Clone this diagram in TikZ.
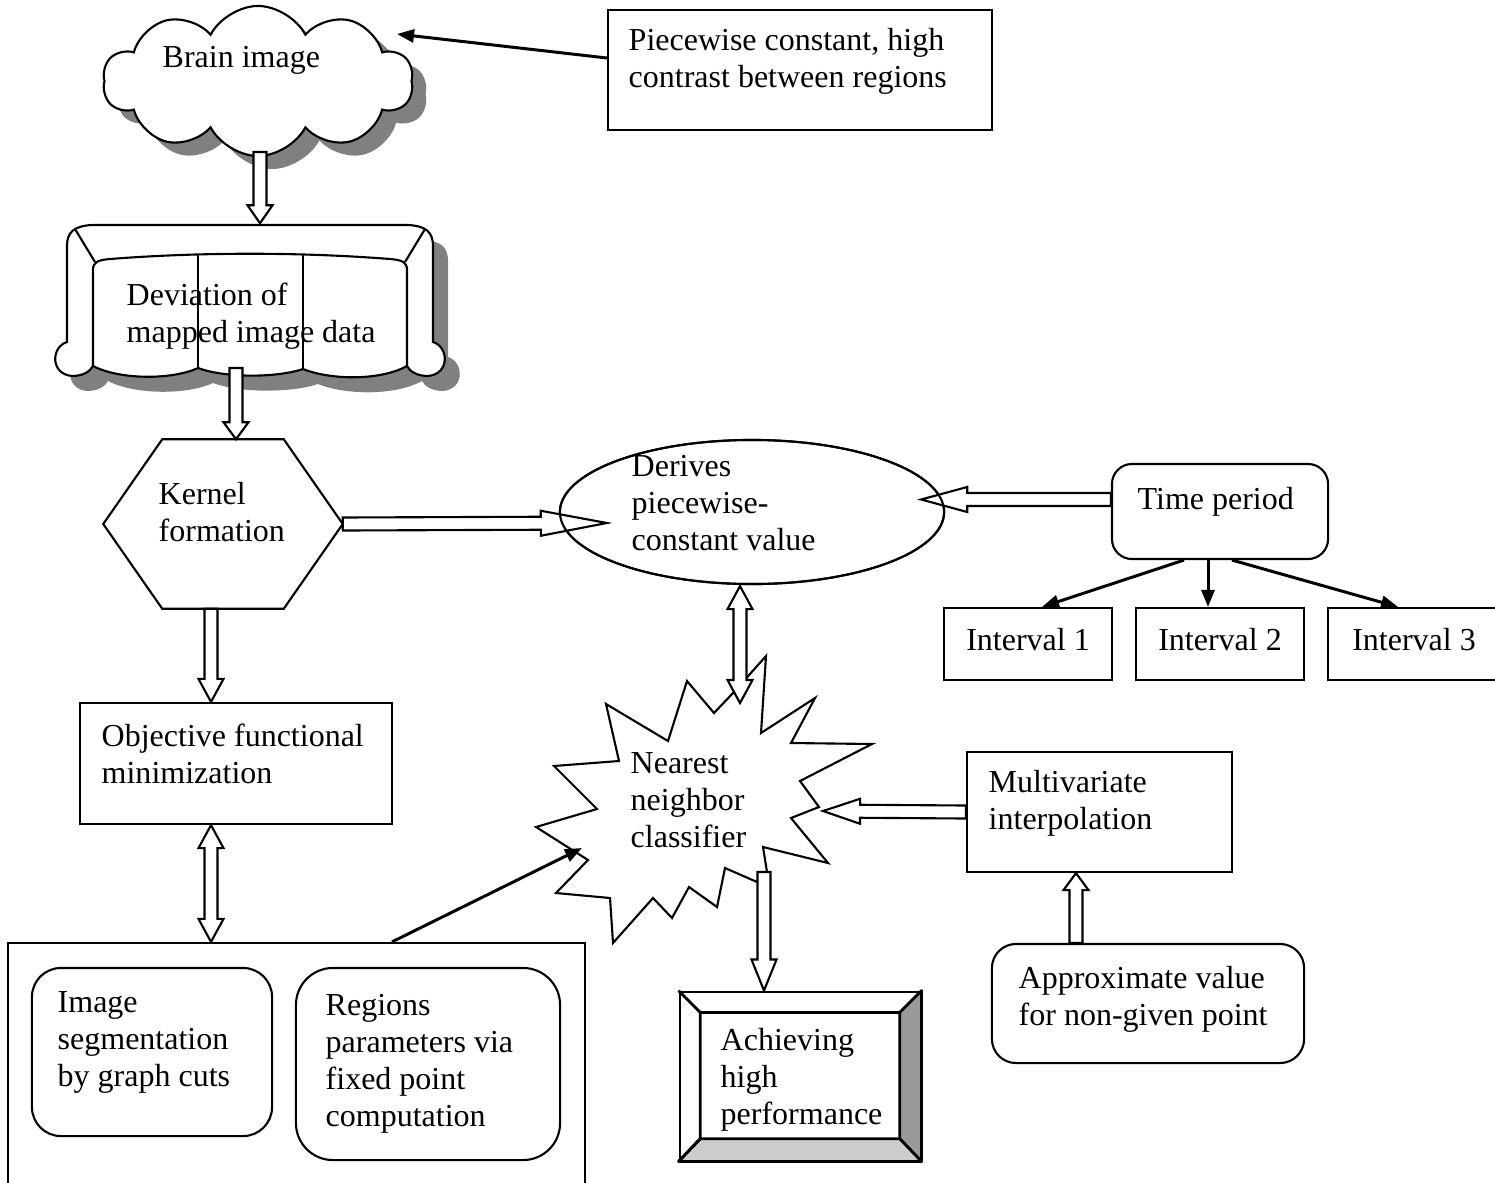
\documentclass[tikz,border=0pt]{standalone}
\usepackage{fontspec}
\setmainfont{Liberation Serif}
\usetikzlibrary{calc,arrows.meta,shapes.geometric,shapes.symbols,shadows}

\definecolor{shadowgray}{HTML}{808080}
\definecolor{beveldark}{HTML}{999999}
\definecolor{bevellight}{HTML}{CCCCCC}

\tikzset{
	shapeline/.style={line width=0.6pt},
	frame/.style={shapeline, draw, rectangle, inner sep=0pt},
	roundframe/.style={frame, rounded corners=#1},
	boxtext/.style={align=left, inner sep=0pt, anchor=north west},
	link/.style={line width=0.85pt, -{Triangle[length=0.17cm,width=0.13cm]}},
	blockline/.style={shapeline, fill=white, line join=miter},
	bevelline/.style={line width=0.8pt, line join=round},
}

% hollow block arrow: [head length]{from}{to}
\newcommand{\blockarrow}[3][0.2cm]{%
	\coordinate (ba-base) at ($(#3)!#1!(#2)$);
	\draw[blockline] ($(#2)!0.065cm!90:(#3)$)
		-- ($(ba-base)!0.065cm!-90:(#2)$) -- ($(ba-base)!0.125cm!-90:(#2)$)
		-- (#3)
		-- ($(ba-base)!0.125cm!90:(#2)$) -- ($(ba-base)!0.065cm!90:(#2)$)
		-- ($(#2)!0.065cm!-90:(#3)$) -- cycle;}

% hollow block arrow with two heads
\newcommand{\twowayarrow}[3][0.23cm]{%
	\coordinate (ta-a) at ($(#2)!#1!(#3)$);
	\coordinate (ta-b) at ($(#3)!#1!(#2)$);
	\draw[blockline] (#2)
		-- ($(ta-a)!0.125cm!90:(#3)$) -- ($(ta-a)!0.065cm!90:(#3)$)
		-- ($(ta-b)!0.065cm!-90:(#2)$) -- ($(ta-b)!0.125cm!-90:(#2)$)
		-- (#3)
		-- ($(ta-b)!0.125cm!90:(#2)$) -- ($(ta-b)!0.065cm!90:(#2)$)
		-- ($(ta-a)!0.065cm!-90:(#3)$) -- ($(ta-a)!0.125cm!-90:(#3)$)
		-- cycle;}

% outline of the sofa shape
\newcommand{\couchoutline}{(67,342) -- (67,246) .. controls (67,232) and (74,226) .. (92,225)
	-- (408,225) .. controls (426,226) and (433,232) .. (433,246) -- (433,342)
	.. controls (449,347) and (450,374) .. (428,376) .. controls (418,376) and (410,372) .. (407,366)
	.. controls (380,381) and (330,380) .. (303,369) .. controls (276,378) and (225,378) .. (198,368)
	.. controls (172,380) and (120,380) .. (93,366) .. controls (90,372) and (82,376) .. (72,376)
	.. controls (50,374) and (51,347) .. (67,342) -- cycle}

\begin{document}
\begin{tikzpicture}[x=0.01cm, y=-0.01cm, font=\fontsize{9.1}{10.5}\selectfont]

	\useasboundingbox (0,0) rectangle (1495,1182);

	% brain image

	\node[cloud, cloud puffs=10, cloud puff arc=125, cloud ignores aspect, draw, shapeline, fill=white,
		minimum width=3.1cm, minimum height=1.5cm,
		drop shadow={shadow xshift=0.14cm, shadow yshift=-0.13cm, fill=shadowgray, opacity=1}] (brain) at (258,81) {};
	\node[boxtext] (brain-txt) at (162,46) {Brain image};

	\node[frame, minimum width=3.84cm, minimum height=1.2cm] (piece) at (800,70) {};
	\node[boxtext] (piece-txt) at (628,28) {Piecewise constant, high\\contrast between regions};

	% mapped image data (sofa)

	\node[minimum width=3.66cm, minimum height=1.52cm, inner sep=0pt] (dev) at (250,300) {};
	\fill[shadowgray, shift={(15,15)}] \couchoutline;
	\draw[shapeline, fill=white] \couchoutline;
	\draw[shapeline] (75,229) -- (95,262);
	\draw[shapeline] (425,229) -- (405,262);
	\draw[shapeline] (93,366) -- (93,270) .. controls (93,262) and (98,260) .. (110,259)
		.. controls (200,252) and (300,252) .. (390,259) .. controls (402,260) and (407,262) .. (407,270) -- (407,366);
	\draw[shapeline] (198,255) -- (198,368);
	\draw[shapeline] (303,255) -- (303,369);
	\node[boxtext] (dev-txt) at (126,282) {Deviation of\\mapped image data};

	% kernel formation

	\node[minimum width=2.38cm, minimum height=1.68cm, inner sep=0pt] (kernel) at (223,524) {};
	\draw[shapeline] (kernel.west) -- ([xshift=0.59cm]kernel.north west) -- ([xshift=-0.59cm]kernel.north east)
		-- (kernel.east) -- ([xshift=-0.59cm]kernel.south east) -- ([xshift=0.59cm]kernel.south west) -- cycle;
	\node[boxtext] (kernel-txt) at (158,482) {Kernel\\formation};

	% piecewise-constant value and time period

	\node[ellipse, draw, shapeline, minimum width=3.84cm, minimum height=1.44cm, inner sep=0pt] (derives) at (752,512) {};
	\node[boxtext] (derives-txt) at (631,455) {Derives\\piecewise-\\constant value};

	\node[roundframe=0.2cm, minimum width=2.16cm, minimum height=0.95cm] (time) at (1220,511.5) {};
	\node[boxtext] (time-txt) at (1137,487) {Time period};

	\node[frame, minimum width=1.68cm, minimum height=0.72cm, text height=0.22cm, text depth=0.1cm] (int1) at (1028,644) {Interval 1};
	\node[frame, minimum width=1.68cm, minimum height=0.72cm, text height=0.22cm, text depth=0.1cm] (int2) at (1220,644) {Interval 2};
	\node[frame, minimum width=1.72cm, minimum height=0.72cm, text height=0.22cm, text depth=0.1cm] (int3) at (1414,644) {Interval 3};

	% objective functional

	\node[frame, minimum width=3.12cm, minimum height=1.21cm] (objective) at (236,763.5) {};
	\node[boxtext] (objective-txt) at (101,723) {Objective functional\\minimization};

	% nearest neighbor classifier (starburst)

	\foreach \px/\py [count=\i] in {766/656, 761/733, 815/698, 791/743, 872/744, 800/781,
		819/807, 791/818, 828/863, 763/847, 767/872, 757/882, 725/868, 717/907,
		689/887, 672/918, 653/898, 613/943, 610/898, 556/893, 588/860, 536/827,
		597/809, 554/766, 619/761, 606/704, 668/741, 687/681, 714/713, 733/693}
		\coordinate (nb\i) at (\px,\py);
	\draw[shapeline, fill=white] (nb1) \foreach \i in {2,...,30} { -- (nb\i) } -- cycle;
	\node[boxtext] (nearest) at (630,752) {Nearest\\neighbor\\classifier};

	% interpolation

	\node[frame, minimum width=2.65cm, minimum height=1.2cm] (multi) at (1099.5,812) {};
	\node[boxtext] (multi-txt) at (988,770) {Multivariate\\interpolation};

	\node[roundframe=0.24cm, minimum width=3.12cm, minimum height=1.19cm] (approx) at (1148,1003.5) {};
	\node[boxtext] (approx-txt) at (1018,966) {Approximate value\\for non-given point};

	% segmentation group

	\node[frame, minimum width=5.77cm, minimum height=2.8cm] (seg) at (296.5,1083) {};
	\node[roundframe=0.29cm, minimum width=2.4cm, minimum height=1.68cm] (imgseg) at (152,1052) {};
	\node[boxtext] (imgseg-txt) at (57,991) {Image\\segmentation\\by graph cuts};
	\node[roundframe=0.37cm, minimum width=2.64cm, minimum height=1.92cm] (regions) at (428,1064) {};
	\node[boxtext] (regions-txt) at (325,994) {Regions\\parameters via\\fixed point\\computation};

	% high performance (bevel)

	\node[frame, bevelline, minimum width=2.4cm, minimum height=1.68cm] (achieve) at (800,1076) {};
	\node[minimum width=1.98cm, minimum height=1.25cm, inner sep=0pt] (achieve-in) at (800,1075.5) {};
	\filldraw[bevelline, fill=beveldark] (achieve.north east) -- (achieve.south east)
		-- (achieve-in.south east) -- (achieve-in.north east) -- cycle;
	\filldraw[bevelline, fill=bevellight] (achieve.south west) -- (achieve.south east)
		-- (achieve-in.south east) -- (achieve-in.south west) -- cycle;
	\draw[bevelline] (achieve.north west) -- (achieve-in.north west) -- (achieve-in.south west) -- (achieve.south west);
	\draw[bevelline] (achieve-in.north west) -- (achieve-in.north east);
	\node[boxtext] (achieve-txt) at (720,1028) {Achieving\\high\\performance};

	% connectors

	\coordinate (brain-tip) at (397,34);
	\draw[link] ($(piece.west)+(0,-12)$) -- (brain-tip);

	\coordinate (brain-bot) at ($(brain.center)+(2,71)$);
	\coordinate (dev-top) at (brain-bot |- dev.north);
	\blockarrow[0.18cm]{brain-bot}{dev-top}

	\coordinate (dev-bot) at (236,368);
	\coordinate (kern-top) at (dev-bot |- kernel.north);
	\blockarrow[0.17cm]{dev-bot}{kern-top}

	\coordinate (der-in) at ($(derives.west)+(48,11)$);
	\blockarrow[0.66cm]{kernel.east}{der-in}

	\coordinate (kern-bot) at ($(kernel.south)+(-12,0)$);
	\coordinate (obj-top) at (kern-bot |- objective.north);
	\blockarrow[0.23cm]{kern-bot}{obj-top}

	\coordinate (obj-bot) at (kern-bot |- objective.south);
	\coordinate (seg-top) at (kern-bot |- seg.north);
	\twowayarrow{obj-bot}{seg-top}

	\coordinate (der-bot) at ($(derives.south)+(-12,1)$);
	\coordinate (nb-top) at (740,703);
	\twowayarrow{der-bot}{nb-top}

	\coordinate (time-out) at ($(time.west)+(0,-12)$);
	\coordinate (der-east) at ($(derives.east)+(-24,-12.5)$);
	\blockarrow[0.46cm]{time-out}{der-east}

	\coordinate (nb-right) at (823,811);
	\blockarrow[0.37cm]{multi.west}{nb-right}

	\coordinate (nb-bot) at (764,872);
	\coordinate (ach-top) at (nb-bot |- achieve.north);
	\blockarrow[0.31cm]{nb-bot}{ach-top}

	\coordinate (app-top) at ($(approx.north)+(-72,0)$);
	\coordinate (multi-bot) at (app-top |- multi.south);
	\blockarrow[0.17cm]{app-top}{multi-bot}

	\coordinate (seg-out) at ($(seg.north)+(95.5,0)$);
	\coordinate (nb-left) at (582,848);
	\draw[link] (seg-out) -- (nb-left);

	\draw[link] ($(time.south)+(-36,0)$) -- ($(int1.north)+(14,0)$);
	\draw[link] ($(time.south)+(-12,0)$) -- ($(int2.north)+(-12,0)$);
	\draw[link] ($(time.south)+(12,0)$) -- ($(int3.north)+(-16,0)$);

	% ellipse outline over the arrow heads
	\draw[shapeline] (derives.center) ellipse [x radius=1.92cm, y radius=0.72cm];

\end{tikzpicture}
\end{document}
